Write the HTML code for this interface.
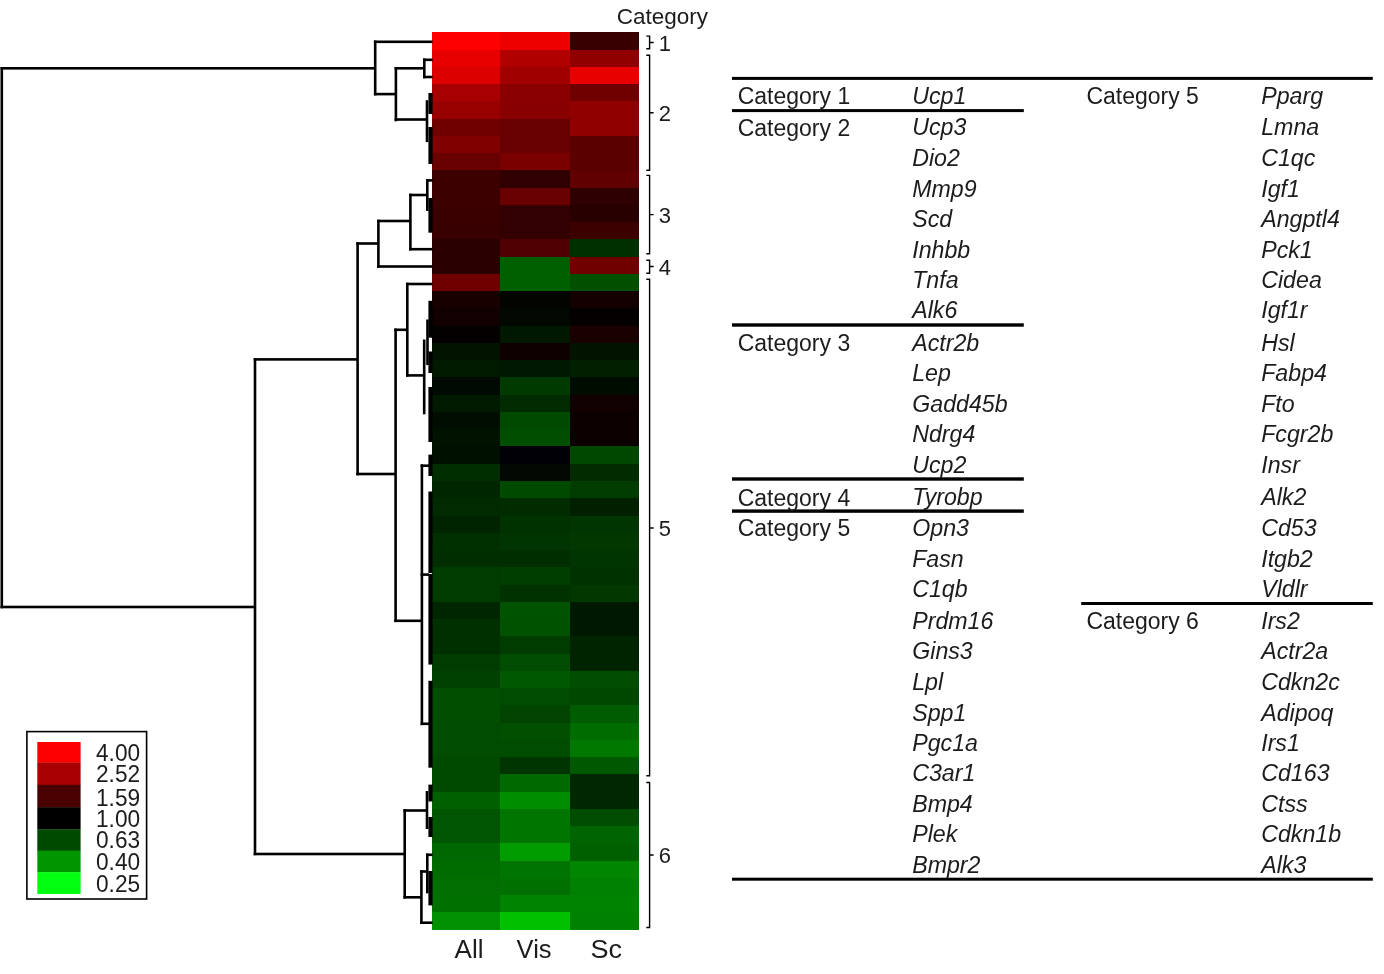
<!DOCTYPE html>
<html><head><meta charset="utf-8"><style>
html,body{margin:0;padding:0;background:#fff;}
body{width:1384px;height:974px;overflow:hidden;}
svg{display:block;font-family:"Liberation Sans", sans-serif;will-change:transform;}
text{fill:#1c1c1c;}
</style></head><body>
<svg width="1384" height="974" viewBox="0 0 1384 974">
<g shape-rendering="crispEdges">
<rect x="432.00" y="32.00" width="68.00" height="18.00" fill="#FF0000"/>
<rect x="500.00" y="32.00" width="70.00" height="18.00" fill="#EE0000"/>
<rect x="570.00" y="32.00" width="69.00" height="18.00" fill="#380000"/>
<rect x="432.00" y="50.00" width="68.00" height="17.00" fill="#E80000"/>
<rect x="500.00" y="50.00" width="70.00" height="17.00" fill="#B00000"/>
<rect x="570.00" y="50.00" width="69.00" height="17.00" fill="#900000"/>
<rect x="432.00" y="67.00" width="68.00" height="17.00" fill="#DD0000"/>
<rect x="500.00" y="67.00" width="70.00" height="17.00" fill="#A00000"/>
<rect x="570.00" y="67.00" width="69.00" height="17.00" fill="#E80000"/>
<rect x="432.00" y="84.00" width="68.00" height="17.00" fill="#A80000"/>
<rect x="500.00" y="84.00" width="70.00" height="17.00" fill="#8A0000"/>
<rect x="570.00" y="84.00" width="69.00" height="17.00" fill="#700000"/>
<rect x="432.00" y="101.00" width="68.00" height="18.00" fill="#980000"/>
<rect x="500.00" y="101.00" width="70.00" height="18.00" fill="#880000"/>
<rect x="570.00" y="101.00" width="69.00" height="18.00" fill="#900000"/>
<rect x="432.00" y="119.00" width="68.00" height="17.00" fill="#700000"/>
<rect x="500.00" y="119.00" width="70.00" height="17.00" fill="#680000"/>
<rect x="570.00" y="119.00" width="69.00" height="17.00" fill="#900000"/>
<rect x="432.00" y="136.00" width="68.00" height="17.00" fill="#800000"/>
<rect x="500.00" y="136.00" width="70.00" height="17.00" fill="#680000"/>
<rect x="570.00" y="136.00" width="69.00" height="17.00" fill="#5A0000"/>
<rect x="432.00" y="153.00" width="68.00" height="17.00" fill="#680000"/>
<rect x="500.00" y="153.00" width="70.00" height="17.00" fill="#7A0000"/>
<rect x="570.00" y="153.00" width="69.00" height="17.00" fill="#5A0000"/>
<rect x="432.00" y="170.00" width="68.00" height="18.00" fill="#3C0000"/>
<rect x="500.00" y="170.00" width="70.00" height="18.00" fill="#300000"/>
<rect x="570.00" y="170.00" width="69.00" height="18.00" fill="#600000"/>
<rect x="432.00" y="188.00" width="68.00" height="17.00" fill="#3C0000"/>
<rect x="500.00" y="188.00" width="70.00" height="17.00" fill="#680000"/>
<rect x="570.00" y="188.00" width="69.00" height="17.00" fill="#2E0000"/>
<rect x="432.00" y="205.00" width="68.00" height="17.00" fill="#3A0000"/>
<rect x="500.00" y="205.00" width="70.00" height="17.00" fill="#320000"/>
<rect x="570.00" y="205.00" width="69.00" height="17.00" fill="#280000"/>
<rect x="432.00" y="222.00" width="68.00" height="17.00" fill="#380000"/>
<rect x="500.00" y="222.00" width="70.00" height="17.00" fill="#320000"/>
<rect x="570.00" y="222.00" width="69.00" height="17.00" fill="#3C0000"/>
<rect x="432.00" y="239.00" width="68.00" height="18.00" fill="#2A0000"/>
<rect x="500.00" y="239.00" width="70.00" height="18.00" fill="#500000"/>
<rect x="570.00" y="239.00" width="69.00" height="18.00" fill="#003000"/>
<rect x="432.00" y="257.00" width="68.00" height="17.00" fill="#2A0000"/>
<rect x="500.00" y="257.00" width="70.00" height="17.00" fill="#006000"/>
<rect x="570.00" y="257.00" width="69.00" height="17.00" fill="#700000"/>
<rect x="432.00" y="274.00" width="68.00" height="17.00" fill="#700000"/>
<rect x="500.00" y="274.00" width="70.00" height="17.00" fill="#006000"/>
<rect x="570.00" y="274.00" width="69.00" height="17.00" fill="#005000"/>
<rect x="432.00" y="291.00" width="68.00" height="17.00" fill="#180000"/>
<rect x="500.00" y="291.00" width="70.00" height="17.00" fill="#030300"/>
<rect x="570.00" y="291.00" width="69.00" height="17.00" fill="#150000"/>
<rect x="432.00" y="308.00" width="68.00" height="18.00" fill="#120000"/>
<rect x="500.00" y="308.00" width="70.00" height="18.00" fill="#000800"/>
<rect x="570.00" y="308.00" width="69.00" height="18.00" fill="#050000"/>
<rect x="432.00" y="326.00" width="68.00" height="17.00" fill="#050000"/>
<rect x="500.00" y="326.00" width="70.00" height="17.00" fill="#001800"/>
<rect x="570.00" y="326.00" width="69.00" height="17.00" fill="#1A0000"/>
<rect x="432.00" y="343.00" width="68.00" height="17.00" fill="#001400"/>
<rect x="500.00" y="343.00" width="70.00" height="17.00" fill="#0F0000"/>
<rect x="570.00" y="343.00" width="69.00" height="17.00" fill="#001400"/>
<rect x="432.00" y="360.00" width="68.00" height="17.00" fill="#001A00"/>
<rect x="500.00" y="360.00" width="70.00" height="17.00" fill="#001800"/>
<rect x="570.00" y="360.00" width="69.00" height="17.00" fill="#002000"/>
<rect x="432.00" y="377.00" width="68.00" height="18.00" fill="#000A00"/>
<rect x="500.00" y="377.00" width="70.00" height="18.00" fill="#003A00"/>
<rect x="570.00" y="377.00" width="69.00" height="18.00" fill="#000C00"/>
<rect x="432.00" y="395.00" width="68.00" height="17.00" fill="#001A00"/>
<rect x="500.00" y="395.00" width="70.00" height="17.00" fill="#002A00"/>
<rect x="570.00" y="395.00" width="69.00" height="17.00" fill="#100000"/>
<rect x="432.00" y="412.00" width="68.00" height="17.00" fill="#000D00"/>
<rect x="500.00" y="412.00" width="70.00" height="17.00" fill="#004A00"/>
<rect x="570.00" y="412.00" width="69.00" height="17.00" fill="#0C0000"/>
<rect x="432.00" y="429.00" width="68.00" height="17.00" fill="#001200"/>
<rect x="500.00" y="429.00" width="70.00" height="17.00" fill="#004E00"/>
<rect x="570.00" y="429.00" width="69.00" height="17.00" fill="#0C0000"/>
<rect x="432.00" y="446.00" width="68.00" height="18.00" fill="#001000"/>
<rect x="500.00" y="446.00" width="70.00" height="18.00" fill="#000005"/>
<rect x="570.00" y="446.00" width="69.00" height="18.00" fill="#004800"/>
<rect x="432.00" y="464.00" width="68.00" height="17.00" fill="#002E00"/>
<rect x="500.00" y="464.00" width="70.00" height="17.00" fill="#000800"/>
<rect x="570.00" y="464.00" width="69.00" height="17.00" fill="#002C00"/>
<rect x="432.00" y="481.00" width="68.00" height="17.00" fill="#002600"/>
<rect x="500.00" y="481.00" width="70.00" height="17.00" fill="#004A00"/>
<rect x="570.00" y="481.00" width="69.00" height="17.00" fill="#003C00"/>
<rect x="432.00" y="498.00" width="68.00" height="18.00" fill="#002A00"/>
<rect x="500.00" y="498.00" width="70.00" height="18.00" fill="#002C00"/>
<rect x="570.00" y="498.00" width="69.00" height="18.00" fill="#002000"/>
<rect x="432.00" y="516.00" width="68.00" height="17.00" fill="#002400"/>
<rect x="500.00" y="516.00" width="70.00" height="17.00" fill="#003200"/>
<rect x="570.00" y="516.00" width="69.00" height="17.00" fill="#003400"/>
<rect x="432.00" y="533.00" width="68.00" height="17.00" fill="#003000"/>
<rect x="500.00" y="533.00" width="70.00" height="17.00" fill="#003400"/>
<rect x="570.00" y="533.00" width="69.00" height="17.00" fill="#003800"/>
<rect x="432.00" y="550.00" width="68.00" height="17.00" fill="#002E00"/>
<rect x="500.00" y="550.00" width="70.00" height="17.00" fill="#002E00"/>
<rect x="570.00" y="550.00" width="69.00" height="17.00" fill="#003400"/>
<rect x="432.00" y="567.00" width="68.00" height="18.00" fill="#003C00"/>
<rect x="500.00" y="567.00" width="70.00" height="18.00" fill="#003E00"/>
<rect x="570.00" y="567.00" width="69.00" height="18.00" fill="#003200"/>
<rect x="432.00" y="585.00" width="68.00" height="17.00" fill="#003C00"/>
<rect x="500.00" y="585.00" width="70.00" height="17.00" fill="#003200"/>
<rect x="570.00" y="585.00" width="69.00" height="17.00" fill="#003800"/>
<rect x="432.00" y="602.00" width="68.00" height="17.00" fill="#002600"/>
<rect x="500.00" y="602.00" width="70.00" height="17.00" fill="#005400"/>
<rect x="570.00" y="602.00" width="69.00" height="17.00" fill="#001800"/>
<rect x="432.00" y="619.00" width="68.00" height="17.00" fill="#003000"/>
<rect x="500.00" y="619.00" width="70.00" height="17.00" fill="#005200"/>
<rect x="570.00" y="619.00" width="69.00" height="17.00" fill="#001800"/>
<rect x="432.00" y="636.00" width="68.00" height="18.00" fill="#003000"/>
<rect x="500.00" y="636.00" width="70.00" height="18.00" fill="#003C00"/>
<rect x="570.00" y="636.00" width="69.00" height="18.00" fill="#002400"/>
<rect x="432.00" y="654.00" width="68.00" height="17.00" fill="#003C00"/>
<rect x="500.00" y="654.00" width="70.00" height="17.00" fill="#004C00"/>
<rect x="570.00" y="654.00" width="69.00" height="17.00" fill="#002400"/>
<rect x="432.00" y="671.00" width="68.00" height="17.00" fill="#004000"/>
<rect x="500.00" y="671.00" width="70.00" height="17.00" fill="#005800"/>
<rect x="570.00" y="671.00" width="69.00" height="17.00" fill="#004C00"/>
<rect x="432.00" y="688.00" width="68.00" height="17.00" fill="#004E00"/>
<rect x="500.00" y="688.00" width="70.00" height="17.00" fill="#004C00"/>
<rect x="570.00" y="688.00" width="69.00" height="17.00" fill="#004800"/>
<rect x="432.00" y="705.00" width="68.00" height="18.00" fill="#004E00"/>
<rect x="500.00" y="705.00" width="70.00" height="18.00" fill="#004400"/>
<rect x="570.00" y="705.00" width="69.00" height="18.00" fill="#005C00"/>
<rect x="432.00" y="723.00" width="68.00" height="17.00" fill="#004C00"/>
<rect x="500.00" y="723.00" width="70.00" height="17.00" fill="#005000"/>
<rect x="570.00" y="723.00" width="69.00" height="17.00" fill="#006C00"/>
<rect x="432.00" y="740.00" width="68.00" height="17.00" fill="#004C00"/>
<rect x="500.00" y="740.00" width="70.00" height="17.00" fill="#004C00"/>
<rect x="570.00" y="740.00" width="69.00" height="17.00" fill="#007800"/>
<rect x="432.00" y="757.00" width="68.00" height="17.00" fill="#004A00"/>
<rect x="500.00" y="757.00" width="70.00" height="17.00" fill="#003400"/>
<rect x="570.00" y="757.00" width="69.00" height="17.00" fill="#005800"/>
<rect x="432.00" y="774.00" width="68.00" height="18.00" fill="#004A00"/>
<rect x="500.00" y="774.00" width="70.00" height="18.00" fill="#006A00"/>
<rect x="570.00" y="774.00" width="69.00" height="18.00" fill="#002800"/>
<rect x="432.00" y="792.00" width="68.00" height="17.00" fill="#006000"/>
<rect x="500.00" y="792.00" width="70.00" height="17.00" fill="#008E00"/>
<rect x="570.00" y="792.00" width="69.00" height="17.00" fill="#002800"/>
<rect x="432.00" y="809.00" width="68.00" height="17.00" fill="#005600"/>
<rect x="500.00" y="809.00" width="70.00" height="17.00" fill="#007600"/>
<rect x="570.00" y="809.00" width="69.00" height="17.00" fill="#004C00"/>
<rect x="432.00" y="826.00" width="68.00" height="17.00" fill="#005600"/>
<rect x="500.00" y="826.00" width="70.00" height="17.00" fill="#007600"/>
<rect x="570.00" y="826.00" width="69.00" height="17.00" fill="#006400"/>
<rect x="432.00" y="843.00" width="68.00" height="18.00" fill="#006800"/>
<rect x="500.00" y="843.00" width="70.00" height="18.00" fill="#009C00"/>
<rect x="570.00" y="843.00" width="69.00" height="18.00" fill="#006000"/>
<rect x="432.00" y="861.00" width="68.00" height="17.00" fill="#006C00"/>
<rect x="500.00" y="861.00" width="70.00" height="17.00" fill="#007400"/>
<rect x="570.00" y="861.00" width="69.00" height="17.00" fill="#008600"/>
<rect x="432.00" y="878.00" width="68.00" height="17.00" fill="#006E00"/>
<rect x="500.00" y="878.00" width="70.00" height="17.00" fill="#007000"/>
<rect x="570.00" y="878.00" width="69.00" height="17.00" fill="#008000"/>
<rect x="432.00" y="895.00" width="68.00" height="17.00" fill="#007000"/>
<rect x="500.00" y="895.00" width="70.00" height="17.00" fill="#008400"/>
<rect x="570.00" y="895.00" width="69.00" height="17.00" fill="#008400"/>
<rect x="432.00" y="912.00" width="68.00" height="18.00" fill="#009000"/>
<rect x="500.00" y="912.00" width="70.00" height="18.00" fill="#00C000"/>
<rect x="570.00" y="912.00" width="69.00" height="18.00" fill="#008200"/>
</g>
<rect x="428.40" y="93.00" width="4.20" height="21.00" fill="#000"/>
<rect x="428.40" y="127.00" width="4.20" height="37.00" fill="#000"/>
<rect x="428.40" y="198.00" width="4.20" height="34.70" fill="#000"/>
<rect x="428.40" y="300.80" width="4.20" height="36.90" fill="#000"/>
<rect x="428.40" y="351.50" width="4.20" height="21.50" fill="#000"/>
<rect x="428.40" y="387.00" width="4.20" height="55.00" fill="#000"/>
<rect x="428.40" y="454.60" width="4.20" height="21.40" fill="#000"/>
<rect x="428.40" y="491.50" width="4.20" height="81.50" fill="#000"/>
<rect x="428.40" y="574.00" width="4.20" height="90.60" fill="#000"/>
<rect x="428.40" y="680.80" width="4.20" height="86.90" fill="#000"/>
<rect x="428.40" y="784.60" width="4.20" height="16.90" fill="#000"/>
<rect x="428.40" y="817.00" width="4.20" height="20.00" fill="#000"/>
<rect x="428.40" y="871.00" width="4.20" height="34.40" fill="#000"/>
<rect x="0.50" y="67.00" width="2.6" height="541.30" fill="#000"/>
<rect x="0.50" y="67.00" width="374.70" height="2.6" fill="#000"/>
<rect x="0.50" y="605.70" width="254.50" height="2.6" fill="#000"/>
<rect x="373.90" y="40.50" width="2.6" height="54.90" fill="#000"/>
<rect x="373.90" y="40.50" width="58.70" height="2.6" fill="#000"/>
<rect x="373.90" y="92.80" width="22.00" height="2.6" fill="#000"/>
<rect x="394.60" y="67.00" width="2.6" height="54.30" fill="#000"/>
<rect x="394.60" y="67.00" width="29.70" height="2.6" fill="#000"/>
<rect x="423.00" y="58.50" width="2.6" height="19.80" fill="#000"/>
<rect x="423.00" y="58.50" width="9.60" height="2.6" fill="#000"/>
<rect x="423.00" y="75.70" width="9.60" height="2.6" fill="#000"/>
<rect x="394.60" y="118.20" width="32.40" height="2.6" fill="#000"/>
<rect x="425.70" y="100.20" width="2.6" height="41.90" fill="#000"/>
<rect x="253.70" y="358.10" width="2.6" height="497.10" fill="#000"/>
<rect x="253.70" y="358.10" width="103.90" height="2.6" fill="#000"/>
<rect x="356.30" y="242.20" width="2.6" height="233.10" fill="#000"/>
<rect x="356.30" y="242.20" width="22.10" height="2.6" fill="#000"/>
<rect x="377.10" y="219.70" width="2.6" height="48.10" fill="#000"/>
<rect x="377.10" y="265.20" width="55.50" height="2.6" fill="#000"/>
<rect x="377.10" y="219.70" width="33.30" height="2.6" fill="#000"/>
<rect x="409.10" y="193.70" width="2.6" height="56.80" fill="#000"/>
<rect x="409.10" y="247.90" width="23.50" height="2.6" fill="#000"/>
<rect x="409.10" y="193.70" width="18.20" height="2.6" fill="#000"/>
<rect x="426.00" y="179.10" width="2.6" height="31.80" fill="#000"/>
<rect x="426.00" y="179.10" width="6.60" height="2.6" fill="#000"/>
<rect x="356.30" y="472.70" width="39.30" height="2.6" fill="#000"/>
<rect x="394.30" y="328.50" width="2.6" height="293.60" fill="#000"/>
<rect x="394.30" y="328.50" width="13.00" height="2.6" fill="#000"/>
<rect x="406.00" y="282.70" width="2.6" height="94.00" fill="#000"/>
<rect x="406.00" y="282.70" width="26.60" height="2.6" fill="#000"/>
<rect x="406.00" y="374.10" width="18.20" height="2.6" fill="#000"/>
<rect x="422.90" y="339.50" width="2.6" height="74.80" fill="#000"/>
<rect x="426.20" y="319.50" width="2.6" height="45.60" fill="#000"/>
<rect x="394.30" y="619.50" width="27.60" height="2.6" fill="#000"/>
<rect x="420.60" y="464.40" width="2.6" height="260.70" fill="#000"/>
<rect x="420.60" y="464.40" width="8.40" height="2.6" fill="#000"/>
<rect x="420.60" y="573.30" width="8.40" height="2.6" fill="#000"/>
<rect x="420.60" y="722.50" width="8.40" height="2.6" fill="#000"/>
<rect x="253.70" y="852.70" width="151.00" height="2.6" fill="#000"/>
<rect x="403.40" y="809.20" width="2.6" height="89.40" fill="#000"/>
<rect x="403.40" y="809.20" width="23.60" height="2.6" fill="#000"/>
<rect x="425.70" y="791.00" width="2.6" height="38.00" fill="#000"/>
<rect x="403.40" y="896.00" width="18.00" height="2.6" fill="#000"/>
<rect x="420.10" y="870.20" width="2.6" height="53.80" fill="#000"/>
<rect x="420.10" y="921.40" width="12.50" height="2.6" fill="#000"/>
<rect x="420.10" y="870.20" width="7.20" height="2.6" fill="#000"/>
<rect x="426.00" y="853.50" width="2.6" height="39.80" fill="#000"/>
<rect x="426.00" y="853.50" width="6.60" height="2.6" fill="#000"/>
<path d="M646.3,36.1 H649.6 V48.8 H646.3 M649.6,42.5 H653.6" stroke="#000" stroke-width="1.4" fill="none"/>
<text transform="translate(658.80,50.70) scale(1.0,1.03)" font-size="22">1</text>
<path d="M646.3,55.3 H649.6 V170.2 H646.3 M649.6,112.8 H653.6" stroke="#000" stroke-width="1.4" fill="none"/>
<text transform="translate(658.80,121.00) scale(1.0,1.03)" font-size="22">2</text>
<path d="M646.3,175.4 H649.6 V253.7 H646.3 M649.6,214.6 H653.6" stroke="#000" stroke-width="1.4" fill="none"/>
<text transform="translate(658.80,222.80) scale(1.0,1.03)" font-size="22">3</text>
<path d="M646.3,260.3 H649.6 V273.2 H646.3 M649.6,266.5 H653.6" stroke="#000" stroke-width="1.4" fill="none"/>
<text transform="translate(658.80,274.70) scale(1.0,1.03)" font-size="22">4</text>
<path d="M646.3,279.3 H649.6 V775.7 H646.3 M649.6,528.0 H653.6" stroke="#000" stroke-width="1.4" fill="none"/>
<text transform="translate(658.80,536.20) scale(1.0,1.03)" font-size="22">5</text>
<path d="M646.3,782.5 H649.6 V927.5 H646.3 M649.6,855.0 H653.6" stroke="#000" stroke-width="1.4" fill="none"/>
<text transform="translate(658.80,863.20) scale(1.0,1.03)" font-size="22">6</text>
<text transform="translate(616.80,23.60) scale(1.0,1.02)" font-size="22.5">Category</text>
<text transform="translate(454.60,957.80) scale(1.0,0.99)" font-size="26">All</text>
<text transform="translate(516.60,957.80) scale(0.98,0.99)" font-size="26">Vis</text>
<text transform="translate(590.60,957.80) scale(1.04,0.99)" font-size="26">Sc</text>
<rect x="26.9" y="731.6" width="119.7" height="167.4" fill="#fff" stroke="#000" stroke-width="1.6"/>
<rect x="37.30" y="742.00" width="43.30" height="20.80" fill="#FF0000"/>
<rect x="37.30" y="762.50" width="43.30" height="22.60" fill="#A80000"/>
<rect x="37.30" y="784.80" width="43.30" height="22.70" fill="#4A0000"/>
<rect x="37.30" y="807.20" width="43.30" height="22.40" fill="#000000"/>
<rect x="37.30" y="829.30" width="43.30" height="21.70" fill="#004A00"/>
<rect x="37.30" y="850.70" width="43.30" height="21.80" fill="#009600"/>
<rect x="37.30" y="872.20" width="43.30" height="21.80" fill="#00FF10"/>
<text transform="translate(96.00,761.20) scale(1.0,1.035)" font-size="22.7">4.00</text>
<text transform="translate(96.00,782.00) scale(1.0,1.035)" font-size="22.7">2.52</text>
<text transform="translate(96.00,805.80) scale(1.0,1.035)" font-size="22.7">1.59</text>
<text transform="translate(96.00,826.80) scale(1.0,1.035)" font-size="22.7">1.00</text>
<text transform="translate(96.00,847.90) scale(1.0,1.035)" font-size="22.7">0.63</text>
<text transform="translate(96.00,869.60) scale(1.0,1.035)" font-size="22.7">0.40</text>
<text transform="translate(96.00,892.00) scale(1.0,1.035)" font-size="22.7">0.25</text>
<rect x="732" y="76.90" width="640.8" height="3.0" fill="#000"/>
<rect x="732" y="109.10" width="291.79999999999995" height="3.0" fill="#000"/>
<rect x="732" y="323.30" width="291.79999999999995" height="3.4" fill="#000"/>
<rect x="732" y="477.30" width="291.79999999999995" height="3.4" fill="#000"/>
<rect x="732" y="509.40" width="291.79999999999995" height="3.4" fill="#000"/>
<rect x="1081.2" y="602.00" width="291.5999999999999" height="3.0" fill="#000"/>
<rect x="732" y="877.70" width="640.8" height="3.0" fill="#000"/>
<text transform="translate(737.70,104.20) scale(1.0,1.05)" font-size="23">Category 1</text>
<text transform="translate(912.20,103.70) scale(1.0,1.06)" font-size="23.2" font-style="italic">Ucp1</text>
<text transform="translate(737.70,135.80) scale(1.0,1.05)" font-size="23">Category 2</text>
<text transform="translate(912.20,135.30) scale(1.0,1.06)" font-size="23.2" font-style="italic">Ucp3</text>
<text transform="translate(912.20,165.80) scale(1.0,1.06)" font-size="23.2" font-style="italic">Dio2</text>
<text transform="translate(912.20,196.50) scale(1.0,1.06)" font-size="23.2" font-style="italic">Mmp9</text>
<text transform="translate(912.20,226.70) scale(1.0,1.06)" font-size="23.2" font-style="italic">Scd</text>
<text transform="translate(912.20,257.50) scale(1.0,1.06)" font-size="23.2" font-style="italic">Inhbb</text>
<text transform="translate(912.20,287.60) scale(1.0,1.06)" font-size="23.2" font-style="italic">Tnfa</text>
<text transform="translate(912.20,317.80) scale(1.0,1.06)" font-size="23.2" font-style="italic">Alk6</text>
<text transform="translate(737.70,351.30) scale(1.0,1.05)" font-size="23">Category 3</text>
<text transform="translate(912.20,350.80) scale(1.0,1.06)" font-size="23.2" font-style="italic">Actr2b</text>
<text transform="translate(912.20,381.00) scale(1.0,1.06)" font-size="23.2" font-style="italic">Lep</text>
<text transform="translate(912.20,411.50) scale(1.0,1.06)" font-size="23.2" font-style="italic">Gadd45b</text>
<text transform="translate(912.20,441.70) scale(1.0,1.06)" font-size="23.2" font-style="italic">Ndrg4</text>
<text transform="translate(912.20,472.50) scale(1.0,1.06)" font-size="23.2" font-style="italic">Ucp2</text>
<text transform="translate(737.70,505.50) scale(1.0,1.05)" font-size="23">Category 4</text>
<text transform="translate(912.20,505.00) scale(1.0,1.06)" font-size="23.2" font-style="italic">Tyrobp</text>
<text transform="translate(737.70,536.20) scale(1.0,1.05)" font-size="23">Category 5</text>
<text transform="translate(912.20,535.70) scale(1.0,1.06)" font-size="23.2" font-style="italic">Opn3</text>
<text transform="translate(912.20,566.50) scale(1.0,1.06)" font-size="23.2" font-style="italic">Fasn</text>
<text transform="translate(912.20,596.70) scale(1.0,1.06)" font-size="23.2" font-style="italic">C1qb</text>
<text transform="translate(912.20,628.80) scale(1.0,1.06)" font-size="23.2" font-style="italic">Prdm16</text>
<text transform="translate(912.20,659.40) scale(1.0,1.06)" font-size="23.2" font-style="italic">Gins3</text>
<text transform="translate(912.20,689.60) scale(1.0,1.06)" font-size="23.2" font-style="italic">Lpl</text>
<text transform="translate(912.20,720.50) scale(1.0,1.06)" font-size="23.2" font-style="italic">Spp1</text>
<text transform="translate(912.20,750.70) scale(1.0,1.06)" font-size="23.2" font-style="italic">Pgc1a</text>
<text transform="translate(912.20,781.00) scale(1.0,1.06)" font-size="23.2" font-style="italic">C3ar1</text>
<text transform="translate(912.20,811.80) scale(1.0,1.06)" font-size="23.2" font-style="italic">Bmp4</text>
<text transform="translate(912.20,842.00) scale(1.0,1.06)" font-size="23.2" font-style="italic">Plek</text>
<text transform="translate(912.20,872.60) scale(1.0,1.06)" font-size="23.2" font-style="italic">Bmpr2</text>
<text transform="translate(1086.40,104.20) scale(1.0,1.05)" font-size="23">Category 5</text>
<text transform="translate(1261.20,103.70) scale(1.0,1.06)" font-size="23.2" font-style="italic">Pparg</text>
<text transform="translate(1261.20,135.30) scale(1.0,1.06)" font-size="23.2" font-style="italic">Lmna</text>
<text transform="translate(1261.20,165.80) scale(1.0,1.06)" font-size="23.2" font-style="italic">C1qc</text>
<text transform="translate(1261.20,196.50) scale(1.0,1.06)" font-size="23.2" font-style="italic">Igf1</text>
<text transform="translate(1261.20,226.70) scale(1.0,1.06)" font-size="23.2" font-style="italic">Angptl4</text>
<text transform="translate(1261.20,257.50) scale(1.0,1.06)" font-size="23.2" font-style="italic">Pck1</text>
<text transform="translate(1261.20,287.60) scale(1.0,1.06)" font-size="23.2" font-style="italic">Cidea</text>
<text transform="translate(1261.20,317.80) scale(1.0,1.06)" font-size="23.2" font-style="italic">Igf1r</text>
<text transform="translate(1261.20,350.80) scale(1.0,1.06)" font-size="23.2" font-style="italic">Hsl</text>
<text transform="translate(1261.20,381.00) scale(1.0,1.06)" font-size="23.2" font-style="italic">Fabp4</text>
<text transform="translate(1261.20,411.50) scale(1.0,1.06)" font-size="23.2" font-style="italic">Fto</text>
<text transform="translate(1261.20,441.70) scale(1.0,1.06)" font-size="23.2" font-style="italic">Fcgr2b</text>
<text transform="translate(1261.20,472.50) scale(1.0,1.06)" font-size="23.2" font-style="italic">Insr</text>
<text transform="translate(1261.20,505.00) scale(1.0,1.06)" font-size="23.2" font-style="italic">Alk2</text>
<text transform="translate(1261.20,535.70) scale(1.0,1.06)" font-size="23.2" font-style="italic">Cd53</text>
<text transform="translate(1261.20,566.50) scale(1.0,1.06)" font-size="23.2" font-style="italic">Itgb2</text>
<text transform="translate(1261.20,596.70) scale(1.0,1.06)" font-size="23.2" font-style="italic">Vldlr</text>
<text transform="translate(1086.40,629.30) scale(1.0,1.05)" font-size="23">Category 6</text>
<text transform="translate(1261.20,628.80) scale(1.0,1.06)" font-size="23.2" font-style="italic">Irs2</text>
<text transform="translate(1261.20,659.40) scale(1.0,1.06)" font-size="23.2" font-style="italic">Actr2a</text>
<text transform="translate(1261.20,689.60) scale(1.0,1.06)" font-size="23.2" font-style="italic">Cdkn2c</text>
<text transform="translate(1261.20,720.50) scale(1.0,1.06)" font-size="23.2" font-style="italic">Adipoq</text>
<text transform="translate(1261.20,750.70) scale(1.0,1.06)" font-size="23.2" font-style="italic">Irs1</text>
<text transform="translate(1261.20,781.00) scale(1.0,1.06)" font-size="23.2" font-style="italic">Cd163</text>
<text transform="translate(1261.20,811.80) scale(1.0,1.06)" font-size="23.2" font-style="italic">Ctss</text>
<text transform="translate(1261.20,842.00) scale(1.0,1.06)" font-size="23.2" font-style="italic">Cdkn1b</text>
<text transform="translate(1261.20,872.60) scale(1.0,1.06)" font-size="23.2" font-style="italic">Alk3</text>
</svg>
</body></html>
